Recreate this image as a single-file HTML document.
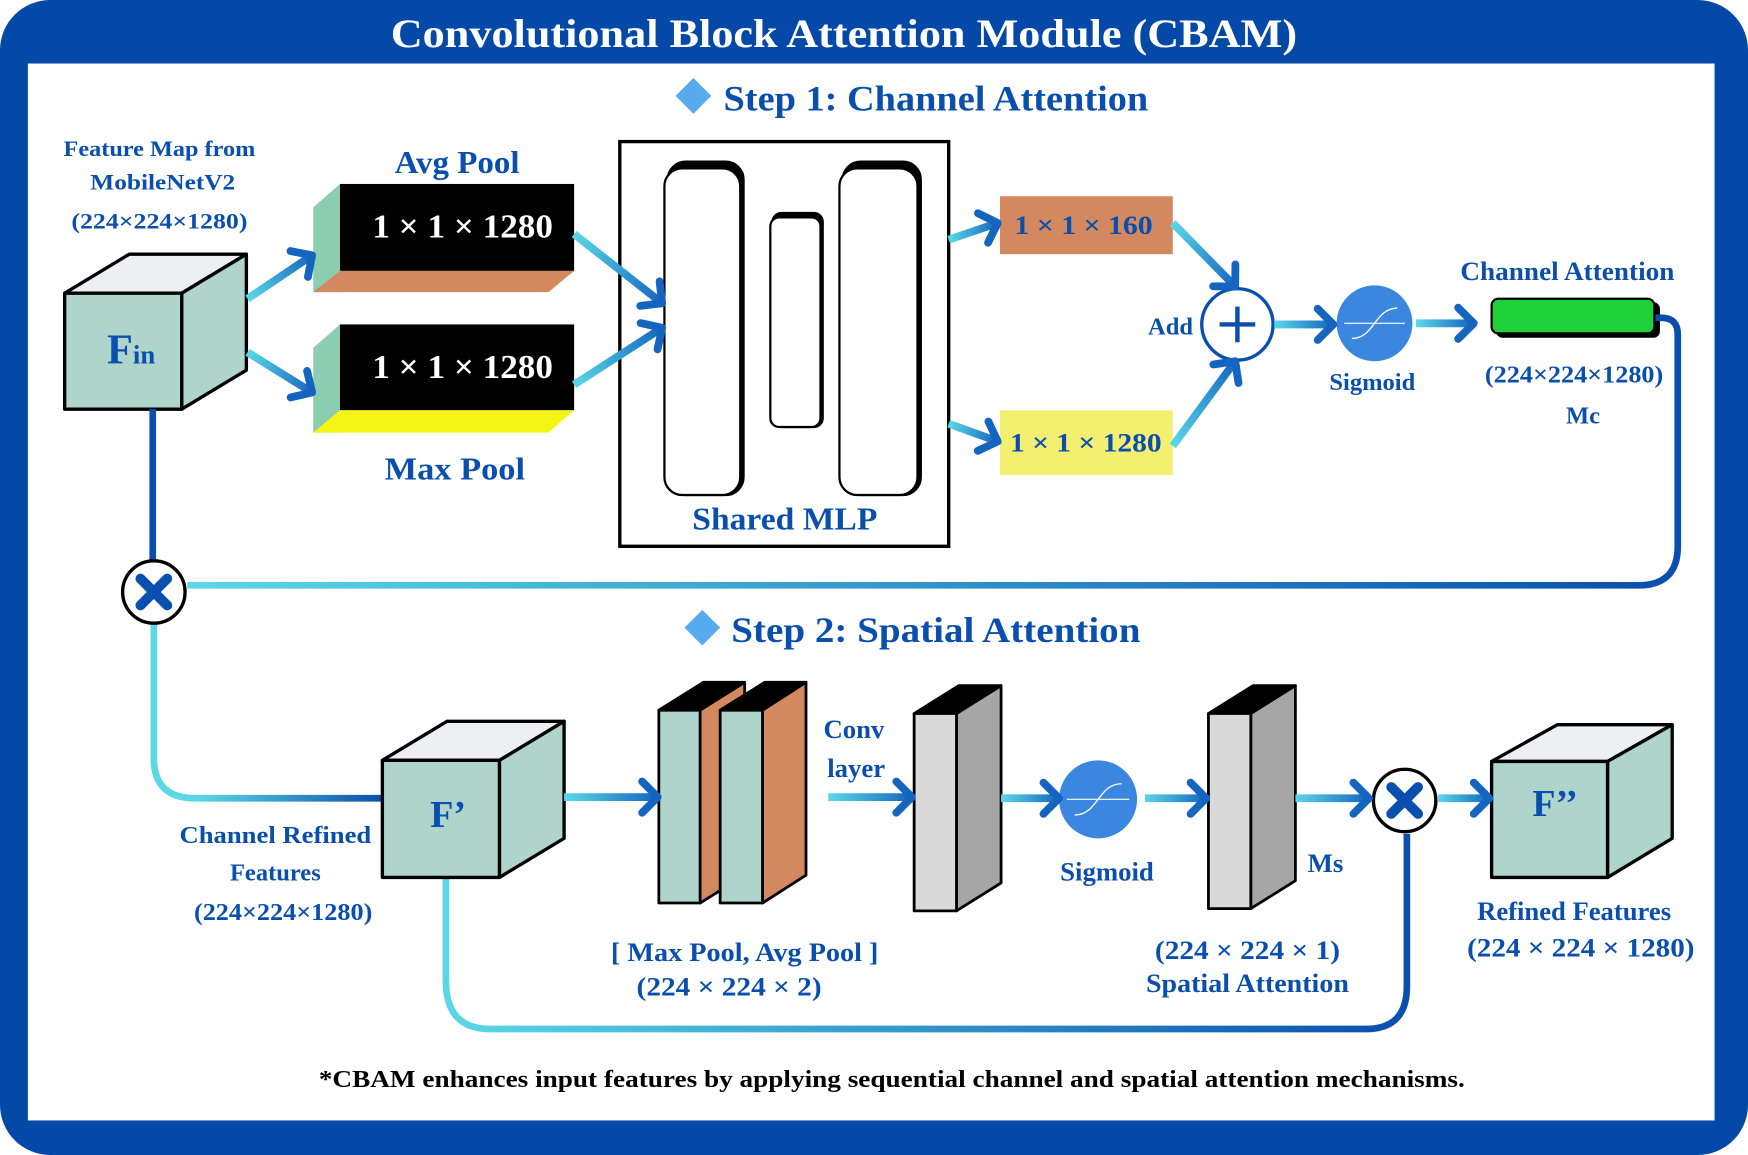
<!DOCTYPE html>
<html><head><meta charset="utf-8"><style>
html,body{margin:0;padding:0;background:#fff;}
svg{display:block;}
text{font-family:"Liberation Serif",serif;font-weight:bold;}
</style></head><body>
<svg id="s" width="1748" height="1155" viewBox="0 0 1568 1036" preserveAspectRatio="none" xmlns="http://www.w3.org/2000/svg">
<defs>
<linearGradient id="gH" gradientUnits="userSpaceOnUse" x1="1490" y1="0" x2="170" y2="0"><stop offset="0" stop-color="#0a4fae"/><stop offset="1" stop-color="#5ad8e6"/></linearGradient>
<linearGradient id="gL" gradientUnits="userSpaceOnUse" x1="0" y1="560" x2="343" y2="716"><stop offset="0" stop-color="#5ad8e6"/><stop offset="0.6" stop-color="#5ad8e6"/><stop offset="1" stop-color="#0a4fae"/></linearGradient>
<linearGradient id="gB" gradientUnits="userSpaceOnUse" x1="400" y1="0" x2="1262" y2="0"><stop offset="0" stop-color="#5ad8e6"/><stop offset="1" stop-color="#0a4fae"/></linearGradient>
</defs>
<!-- frame -->
<rect x="0" y="0" width="1568" height="1036" rx="45" fill="#0449a8"/>
<rect x="25" y="57" width="1513" height="948" fill="#fff"/>
<text x="757" y="42" font-size="36" fill="#fff" text-anchor="middle" textLength="813" lengthAdjust="spacingAndGlyphs">Convolutional Block Attention Module (CBAM)</text>
<!-- step 1 -->
<polygon points="622,70 638,86 622,102 606,86" fill="#58aaee"/>
<text x="649" y="99" font-size="32" fill="#0a4fae" textLength="381" lengthAdjust="spacingAndGlyphs">Step 1: Channel Attention</text>
<g fill="#0a4fae" text-anchor="middle" font-size="20">
<text x="143" y="140" textLength="172" lengthAdjust="spacingAndGlyphs">Feature Map from</text>
<text x="146" y="170" textLength="130" lengthAdjust="spacingAndGlyphs">MobileNetV2</text>
<text x="143" y="205" textLength="158" lengthAdjust="spacingAndGlyphs">(224×224×1280)</text>
</g>
<!-- Fin cube -->
<g stroke="#000" stroke-width="3" stroke-linejoin="round">
<polygon points="58,263 116,228 221,228 163,263" fill="#eeeff1"/>
<polygon points="163,263 221,228 221,332 163,367" fill="#aed4cc"/>
<rect x="58" y="263" width="105" height="104" fill="#aed4cc"/>
</g>
<text x="96" y="326" font-size="38" fill="#0a4fae">F<tspan font-size="24">in</tspan></text>
<!-- pools -->
<text x="410" y="155" font-size="28" fill="#0a4fae" text-anchor="middle" textLength="112" lengthAdjust="spacingAndGlyphs">Avg Pool</text>
<polygon points="281,186 305,165 305,262 281,262" fill="#8ccdb0"/>
<rect x="305" y="165" width="210" height="78" fill="#000"/>
<polygon points="305,243 515,243 492,262 281,262" fill="#d3885f"/>
<text x="415" y="213" font-size="30" fill="#fff" text-anchor="middle" textLength="162" lengthAdjust="spacingAndGlyphs">1 × 1 × 1280</text>
<polygon points="281,312 305,291 305,388 281,388" fill="#8ccdb0"/>
<rect x="305" y="291" width="210" height="77" fill="#000"/>
<polygon points="305,368 515,368 492,388 281,388" fill="#f5f515"/>
<text x="415" y="339" font-size="30" fill="#fff" text-anchor="middle" textLength="162" lengthAdjust="spacingAndGlyphs">1 × 1 × 1280</text>
<text x="408" y="430" font-size="28" fill="#0a4fae" text-anchor="middle" textLength="126" lengthAdjust="spacingAndGlyphs">Max Pool</text>
<!-- shared MLP -->
<rect x="556" y="127" width="295" height="363" fill="#fff" stroke="#000" stroke-width="3"/>
<g stroke="#000" stroke-width="2" fill="#fff">
<rect x="599" y="145" width="68" height="299" rx="16" fill="#000"/>
<rect x="596" y="151" width="68" height="293" rx="16"/>
<rect x="693" y="191" width="45" height="192" rx="8" fill="#000"/>
<rect x="691" y="195" width="45" height="188" rx="8"/>
<rect x="756" y="145" width="70" height="299" rx="16" fill="#000"/>
<rect x="753" y="151" width="70" height="293" rx="16"/>
</g>
<text x="704" y="475" font-size="28" fill="#0a4fae" text-anchor="middle" textLength="166" lengthAdjust="spacingAndGlyphs">Shared MLP</text>
<!-- pooled vectors -->
<rect x="897" y="176" width="155" height="52" fill="#d3885f"/>
<text x="972" y="210" font-size="24" fill="#0a4fae" text-anchor="middle" textLength="124" lengthAdjust="spacingAndGlyphs">1 × 1 × 160</text>
<rect x="897" y="368" width="155" height="58" fill="#f3ef70"/>
<text x="974" y="405" font-size="24" fill="#0a4fae" text-anchor="middle" textLength="136" lengthAdjust="spacingAndGlyphs">1 × 1 × 1280</text>
<!-- add -->
<circle cx="1110" cy="291" r="32" fill="#fff" stroke="#0a4fae" stroke-width="3"/>
<path d="M1110,275 V307 M1094,291 H1126" stroke="#0a4fae" stroke-width="4"/>
<text x="1050" y="300" font-size="22" fill="#0a4fae" text-anchor="middle">Add</text>
<!-- sigmoid 1 -->
<g id="sig1"></g>
<text x="1231" y="350" font-size="22" fill="#0a4fae" text-anchor="middle">Sigmoid</text>
<!-- Mc -->
<rect x="1342" y="271" width="147" height="32" rx="6" fill="#000"/>
<rect x="1338" y="268" width="146" height="31" rx="6" fill="#1fd23a" stroke="#000" stroke-width="2"/>
<text x="1406" y="251" font-size="24" fill="#0a4fae" text-anchor="middle" textLength="192" lengthAdjust="spacingAndGlyphs">Channel Attention</text>
<text x="1412" y="343" font-size="22" fill="#0a4fae" text-anchor="middle" textLength="160" lengthAdjust="spacingAndGlyphs">(224×224×1280)</text>
<text x="1420" y="380" font-size="22" fill="#0a4fae" text-anchor="middle">Mc</text>
<!-- feedback path -->
<path d="M1485,285 H1490 Q1505,285 1505,300 V490 Q1505,525 1470,525 H168" fill="none" stroke="url(#gH)" stroke-width="6"/>
<line x1="137" y1="367" x2="137" y2="502" stroke="#0a4fae" stroke-width="6"/>
<path d="M138,560 V680 Q138,716 175,716 H343" fill="none" stroke="url(#gL)" stroke-width="6"/>
<path d="M400,787 V880 Q400,923 440,923 H1225 Q1262,923 1262,885 V748" fill="none" stroke="url(#gB)" stroke-width="6"/>
<!-- mult circles -->
<g id="mul"></g>
<!-- step 2 -->
<polygon points="630,547 646,563 630,579 614,563" fill="#58aaee"/>
<text x="656" y="576" font-size="32" fill="#0a4fae" textLength="367" lengthAdjust="spacingAndGlyphs">Step 2: Spatial Attention</text>
<!-- F' cube -->
<g stroke="#000" stroke-width="3" stroke-linejoin="round">
<polygon points="343,682 401,647 506,647 448,682" fill="#eeeff1"/>
<polygon points="448,682 506,647 506,752 448,787" fill="#aed4cc"/>
<rect x="343" y="682" width="105" height="105" fill="#aed4cc"/>
</g>
<text x="402" y="742" font-size="34" fill="#0a4fae" text-anchor="middle">F’</text>
<g fill="#0a4fae" text-anchor="middle" font-size="22">
<text x="247" y="756" textLength="172" lengthAdjust="spacingAndGlyphs">Channel Refined</text>
<text x="247" y="790">Features</text>
<text x="254" y="825" textLength="160" lengthAdjust="spacingAndGlyphs">(224×224×1280)</text>
</g>
<!-- slabs -->
<g stroke="#000" stroke-width="2.5" stroke-linejoin="round">
<polygon points="591,637 631,612 668,612 628,637" fill="#000"/>
<polygon points="628,637 668,612 668,785 628,810" fill="#d3885f"/>
<rect x="591" y="637" width="37" height="173" fill="#aed4cc"/>
<polygon points="646,637 686,612 723,612 684,637" fill="#000"/>
<polygon points="684,637 723,612 723,785 684,810" fill="#d3885f"/>
<rect x="646" y="637" width="38" height="173" fill="#aed4cc"/>
<polygon points="820,640 860,615 898,615 858,640" fill="#000"/>
<polygon points="858,640 898,615 898,792 858,817" fill="#a6a6a6"/>
<rect x="820" y="640" width="38" height="177" fill="#d9d9d9"/>
<polygon points="1084,640 1124,615 1162,615 1122,640" fill="#000"/>
<polygon points="1122,640 1162,615 1162,790 1122,815" fill="#a6a6a6"/>
<rect x="1084" y="640" width="38" height="175" fill="#d9d9d9"/>
</g>
<g fill="#0a4fae" text-anchor="middle" font-size="24">
<text x="668" y="862" textLength="240" lengthAdjust="spacingAndGlyphs">[ Max Pool, Avg Pool ]</text>
<text x="654" y="893" textLength="166" lengthAdjust="spacingAndGlyphs">(224 × 224 × 2)</text>
<text x="766" y="662">Conv</text>
<text x="768" y="697">layer</text>
<text x="993" y="790">Sigmoid</text>
<text x="1189" y="782">Ms</text>
<text x="1119" y="860" textLength="166" lengthAdjust="spacingAndGlyphs">(224 × 224 × 1)</text>
<text x="1119" y="890" textLength="182" lengthAdjust="spacingAndGlyphs">Spatial Attention</text>
<text x="1412" y="825" textLength="174" lengthAdjust="spacingAndGlyphs">Refined Features</text>
<text x="1418" y="858" textLength="204" lengthAdjust="spacingAndGlyphs">(224 × 224 × 1280)</text>
</g>
<g id="sig2"></g>
<!-- F'' cube -->
<g stroke="#000" stroke-width="3" stroke-linejoin="round">
<polygon points="1338,683 1397,650 1500,650 1442,683" fill="#eeeff1"/>
<polygon points="1442,683 1500,650 1500,752 1442,787" fill="#aed4cc"/>
<rect x="1338" y="683" width="104" height="104" fill="#aed4cc"/>
</g>
<text x="1395" y="732" font-size="34" fill="#0a4fae" text-anchor="middle">F’’</text>
<text x="800" y="975" font-size="22" fill="#000" text-anchor="middle" textLength="1028" lengthAdjust="spacingAndGlyphs">*CBAM enhances input features by applying sequential channel and spatial attention mechanisms.</text>
<g id="arrows"></g>
</svg>
<script>
var NS="http://www.w3.org/2000/svg",svg=document.getElementById('s');
var defs=svg.querySelector('defs'),ag=document.getElementById('arrows');
function el(t,a,p){var e=document.createElementNS(NS,t);for(var k in a)e.setAttribute(k,a[k]);(p||ag).appendChild(e);return e;}
var n=0;
function arrow(x1,y1,x2,y2){
 var id='ga'+(n++);
 var g=el('linearGradient',{id:id,gradientUnits:'userSpaceOnUse',x1:x1,y1:y1,x2:x2,y2:y2},defs);
 el('stop',{offset:0,'stop-color':'#5ad8e6'},g);el('stop',{offset:1,'stop-color':'#1565c0'},g);
 var dx=x2-x1,dy=y2-y1,L=Math.sqrt(dx*dx+dy*dy),ux=dx/L,uy=dy/L,px=-uy,py=ux;
 el('line',{x1:x1,y1:y1,x2:x2-ux*4,y2:y2-uy*4,stroke:'url(#'+id+')','stroke-width':7});
 var h=14;
 var p=[(x2-ux*h+px*h)+','+(y2-uy*h+py*h),x2+','+y2,(x2-ux*h-px*h)+','+(y2-uy*h-py*h)].join(' ');
 el('polyline',{points:p,fill:'none',stroke:'#1565c0','stroke-width':7,'stroke-linecap':'round','stroke-linejoin':'round'});
}
arrow(222,268,280,229);arrow(222,316,280,352);
arrow(515,210,594,272);arrow(515,345,594,294);
arrow(851,215,895,200);arrow(851,380,895,396);
arrow(1052,200,1108,257);arrow(1052,400,1108,324);
arrow(1143,291,1196,291);arrow(1270,290,1322,290);
arrow(506,715,590,715);arrow(743,715,818,715);
arrow(898,716,950,716);arrow(1027,716,1082,716);
arrow(1162,716,1228,716);arrow(1290,716,1336,716);
function sig(cx,cy,r,parent){
 var p=document.getElementById(parent);
 el('circle',{cx:cx,cy:cy,r:r,fill:'#3b87e0'},p);
 el('line',{x1:cx-r*0.8,y1:cy,x2:cx+r*0.8,y2:cy,stroke:'#fff','stroke-width':1},p);
 el('path',{d:'M'+(cx-r*0.6)+','+(cy+r*0.4)+' C'+(cx)+','+(cy+r*0.4)+' '+cx+','+(cy-r*0.4)+' '+(cx+r*0.6)+','+(cy-r*0.4),fill:'none',stroke:'#fff','stroke-width':1.2},p);
}
sig(1233,290,34,'sig1');sig(985,717,35,'sig2');
function mul(cx,cy){
 var p=document.getElementById('mul');
 el('circle',{cx:cx,cy:cy,r:28,fill:'#fff',stroke:'#000','stroke-width':3},p);
 el('path',{d:'M'+(cx-12)+','+(cy-12)+' L'+(cx+12)+','+(cy+12)+' M'+(cx+12)+','+(cy-12)+' L'+(cx-12)+','+(cy+12),stroke:'#0a4fae','stroke-width':9,'stroke-linecap':'round'},p);
}
mul(138,531);mul(1260,718);
</script>
</body></html>
